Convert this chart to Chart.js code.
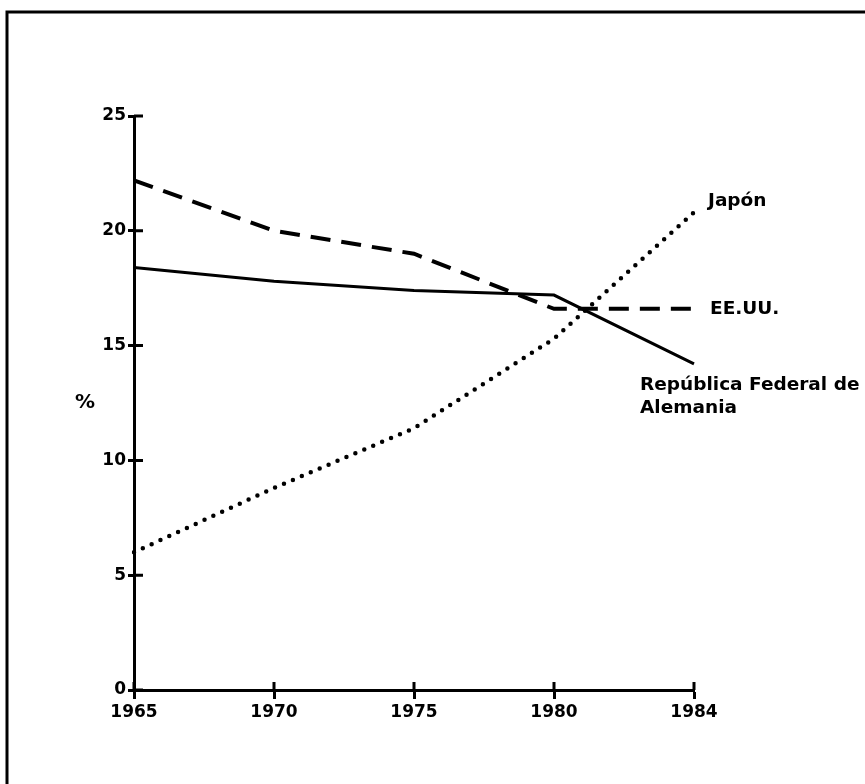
<!DOCTYPE html>
<html>
<head>
<meta charset="utf-8">
<script src="https://cdn.jsdelivr.net/npm/chart.js@4/dist/chart.umd.min.js"></script>
<style>
  html, body { margin: 0; padding: 0; background: #fff; }
  #c { display: block; }
</style>
</head>
<body>
<canvas id="c" width="865" height="784"></canvas>
<script>
// ---- data ----
const years = ['1965', '1970', '1975', '1980', '1984'];
const germany = [18.4, 17.8, 17.4, 17.2, 14.2];
const usa = [22.2, 20.0, 19.0, 16.6, 16.6];
const japan = [6.0, 8.8, 11.4, 15.3, 20.8];
const germanyLabel = ['República Federal de', 'Alemania'];
const usaLabel = 'EE.UU.';
const japanLabel = 'Japón';
const yTicks = [0, 5, 10, 15, 20, 25];
const yTitle = '%';

const FONT = 'DejaVu Sans';

const decor = {
  id: 'decor',
  beforeDraw(chart) {
    const ctx = chart.ctx;
    ctx.save();
    ctx.fillStyle = '#fff';
    ctx.fillRect(0, 0, chart.width, chart.height);
    // page frame (top and left edges)
    ctx.strokeStyle = '#000';
    ctx.lineWidth = 3;
    ctx.beginPath();
    ctx.moveTo(chart.width, 12);
    ctx.lineTo(7, 12);
    ctx.lineTo(7, chart.height);
    ctx.stroke();
    ctx.restore();
  },
  afterDraw(chart) {
    const ctx = chart.ctx;
    const xs = chart.scales.x, ys = chart.scales.y;
    ctx.save();
    ctx.strokeStyle = '#000';
    ctx.lineWidth = 3;
    // inner halves of tick marks
    ctx.beginPath();
    ys.ticks.forEach((t, i) => {
      const py = ys.getPixelForTick(i);
      ctx.moveTo(xs.left, py);
      ctx.lineTo(xs.left + 9, py);
    });
    xs.ticks.forEach((t, i) => {
      const px = xs.getPixelForTick(i);
      ctx.moveTo(px, ys.bottom);
      ctx.lineTo(px, ys.bottom - 8);
    });
    ctx.stroke();

    // series labels
    ctx.fillStyle = '#000';
    ctx.font = 'bold 18.5px "' + FONT + '"';
    ctx.textBaseline = 'middle';
    ctx.textAlign = 'left';
    const last = years.length - 1;
    const xEnd = xs.getPixelForValue(last);
    ctx.fillText(japanLabel, xEnd + 14, ys.getPixelForValue(japan[last]) - 11);
    ctx.fillText(usaLabel, xEnd + 16, ys.getPixelForValue(usa[last]));
    const gy = ys.getPixelForValue(germany[last]);
    ctx.fillText(germanyLabel[0], xEnd - 54, gy + 21);
    ctx.fillText(germanyLabel[1], xEnd - 54, gy + 44);

    // y-axis title
    ctx.font = 'bold 20px "' + FONT + '"';
    ctx.textAlign = 'center';
    ctx.fillText(yTitle, xs.left - 49, (ys.top + ys.bottom) / 2);
    ctx.restore();
  }
};

new Chart(document.getElementById('c'), {
  type: 'line',
  data: {
    labels: years,
    datasets: [
      { label: germanyLabel.join(' '), data: germany, borderColor: '#000', borderWidth: 3,
        pointRadius: 0, tension: 0, fill: false },
      { label: usaLabel, data: usa, borderColor: '#000', borderWidth: 4,
        borderDash: [20, 11], pointRadius: 0, tension: 0, fill: false },
      { label: japanLabel, data: japan, borderColor: '#000', borderWidth: 4.5,
        borderDash: [0, 9.7], borderCapStyle: 'round', pointRadius: 0, tension: 0, fill: false }
    ]
  },
  options: {
    responsive: false,
    animation: false,
    devicePixelRatio: 1,
    layout: { padding: { left: 0, right: 171, top: 116, bottom: 54 } },
    plugins: { legend: { display: false }, tooltip: { enabled: false } },
    scales: {
      x: {
        type: 'category',
        offset: false,
        border: { display: true, color: '#000', width: 3 },
        grid: { display: true, drawOnChartArea: false, drawTicks: true, tickLength: 9,
                tickWidth: 3, tickColor: '#000', color: '#000' },
        ticks: { color: '#000', font: { family: FONT, size: 17, weight: 'bold' },
                 padding: 3, maxRotation: 0, autoSkip: false },
        afterFit(scale) { scale.height = 40; }
      },
      y: {
        min: 0, max: 25,
        afterBuildTicks(scale) { scale.ticks = yTicks.map(v => ({ value: v })); },
        border: { display: true, color: '#000', width: 3 },
        grid: { display: true, drawOnChartArea: false, drawTicks: true, tickLength: 6,
                tickWidth: 3, tickColor: '#000', color: '#000' },
        ticks: { color: '#000', font: { family: FONT, size: 17, weight: 'bold' },
                 padding: 2 },
        afterFit(scale) { scale.width = 134; }
      }
    }
  },
  plugins: [decor]
});
</script>
</body>
</html>
